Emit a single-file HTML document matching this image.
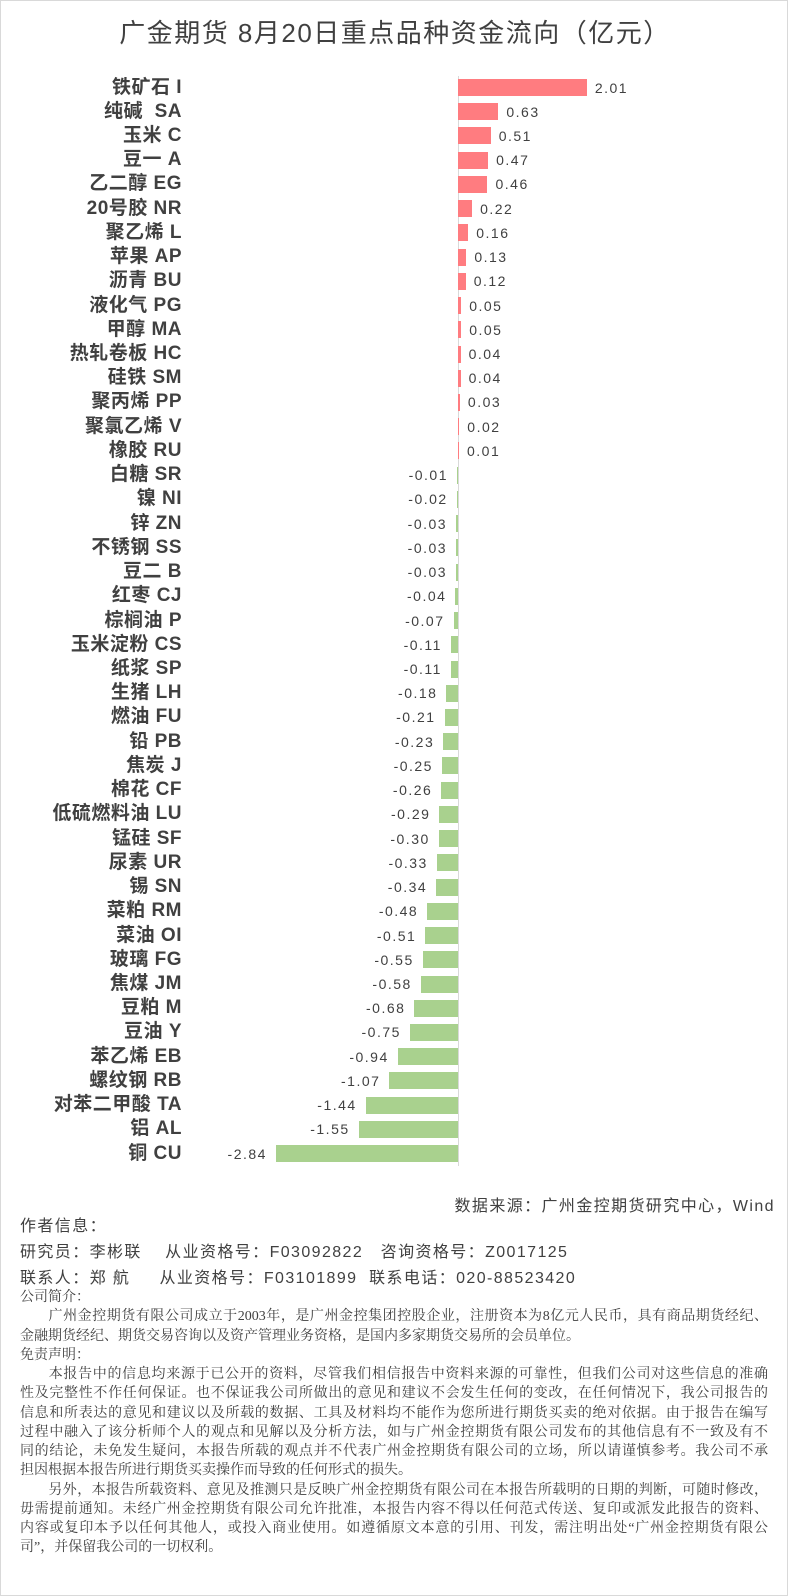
<!DOCTYPE html>
<html><head><meta charset="utf-8">
<style>
html,body{margin:0;padding:0;background:#fff}
#c{position:relative;width:786px;height:1594px;border:1px solid #d9d9d9;overflow:hidden;font-family:"Liberation Sans","Noto Sans CJK SC",sans-serif;color:#404040}
.t{position:absolute;white-space:nowrap}
.lab{font-size:19px;font-weight:bold;right:605px;line-height:22px;color:#404040;letter-spacing:0.5px}
.v{font-size:14px;line-height:18px;color:#404040;letter-spacing:1.5px}
.b{position:absolute;height:17px}
.p{position:absolute;left:19px;width:748px;font-size:14px;line-height:19.25px;color:#404040;font-family:"Liberation Serif","Noto Serif CJK SC",serif}
.p div{white-space:nowrap;text-align:justify;text-align-last:justify}
.p div.n{text-align-last:left}
.a{font-size:16px;letter-spacing:1.4px}
</style></head><body><div id="c">
<div class="t" style="left:0;width:788px;text-align:center;top:12px;font-size:26px;letter-spacing:1.5px;color:#404040">广金期货 8月20日重点品种资金流向（亿元）</div>
<div style="position:absolute;left:457px;top:75px;width:1px;height:1090px;background:#d9d9d9"></div>
<div id="rows"></div>
<div class="t a" style="right:12px;top:1191px">数据来源：广州金控期货研究中心，Wind</div>
<div class="t a" style="left:19px;top:1211px">作者信息：</div>
<div class="t a" style="left:19px;top:1237px">研究员：李彬联&nbsp;&nbsp;&nbsp;&nbsp;从业资格号：F03092822&nbsp;&nbsp;&nbsp;咨询资格号：Z0017125</div>
<div class="t a" style="left:19px;top:1263px">联系人：郑 航&nbsp;&nbsp;&nbsp;&nbsp;&nbsp;从业资格号：F03101899&nbsp;&nbsp;联系电话：020-88523420</div>
<div class="p" style="top:1287px">
<div class="n">公司简介：</div>
<div>&emsp;&emsp;广州金控期货有限公司成立于2003年，是广州金控集团控股企业，注册资本为8亿元人民币，具有商品期货经纪、</div>
<div class="n">金融期货经纪、期货交易咨询以及资产管理业务资格，是国内多家期货交易所的会员单位。</div>
<div class="n">免责声明：</div>
<div>&emsp;&emsp;本报告中的信息均来源于已公开的资料，尽管我们相信报告中资料来源的可靠性，但我们公司对这些信息的准确</div>
<div>性及完整性不作任何保证。也不保证我公司所做出的意见和建议不会发生任何的变改，在任何情况下，我公司报告的</div>
<div>信息和所表达的意见和建议以及所载的数据、工具及材料均不能作为您所进行期货买卖的绝对依据。由于报告在编写</div>
<div>过程中融入了该分析师个人的观点和见解以及分析方法，如与广州金控期货有限公司发布的其他信息有不一致及有不</div>
<div>同的结论，未免发生疑问，本报告所载的观点并不代表广州金控期货有限公司的立场，所以请谨慎参考。我公司不承</div>
<div class="n">担因根据本报告所进行期货买卖操作而导致的任何形式的损失。</div>
<div>&emsp;&emsp;另外，本报告所载资料、意见及推测只是反映广州金控期货有限公司在本报告所载明的日期的判断，可随时修改，</div>
<div>毋需提前通知。未经广州金控期货有限公司允许批准，本报告内容不得以任何范式传送、复印或派发此报告的资料、</div>
<div>内容或复印本予以任何其他人，或投入商业使用。如遵循原文本意的引用、刊发，需注明出处“广州金控期货有限公</div>
<div class="n">司”，并保留我公司的一切权利。</div>
</div>
</div>
<script>
var d=[["铁矿石 I",2.01],["纯碱  SA",0.63],["玉米 C",0.51],["豆一 A",0.47],["乙二醇 EG",0.46],["20号胶 NR",0.22],["聚乙烯 L",0.16],["苹果 AP",0.13],["沥青 BU",0.12],["液化气 PG",0.05],["甲醇 MA",0.05],["热轧卷板 HC",0.04],["硅铁 SM",0.04],["聚丙烯 PP",0.03],["聚氯乙烯 V",0.02],["橡胶 RU",0.01],["白糖 SR",-0.01],["镍 NI",-0.02],["锌 ZN",-0.03],["不锈钢 SS",-0.03],["豆二 B",-0.03],["红枣 CJ",-0.04],["棕榈油 P",-0.07],["玉米淀粉 CS",-0.11],["纸浆 SP",-0.11],["生猪 LH",-0.18],["燃油 FU",-0.21],["铅 PB",-0.23],["焦炭 J",-0.25],["棉花 CF",-0.26],["低硫燃料油 LU",-0.29],["锰硅 SF",-0.30],["尿素 UR",-0.33],["锡 SN",-0.34],["菜粕 RM",-0.48],["菜油 OI",-0.51],["玻璃 FG",-0.55],["焦煤 JM",-0.58],["豆粕 M",-0.68],["豆油 Y",-0.75],["苯乙烯 EB",-0.94],["螺纹钢 RB",-1.07],["对苯二甲酸 TA",-1.44],["铝 AL",-1.55],["铜 CU",-2.84]];
var h="",z=457,k=64.1;
d.forEach(function(r,i){var cy=86.5+i*24.23,v=r[1],w=Math.max(Math.abs(v)*k,1);
h+='<div class="t lab" style="top:'+(cy-11)+'px">'+r[0].replace(/ /g,"&nbsp;")+'</div>';
if(v>0){h+='<div class="b" style="left:'+z+'px;top:'+(cy-8.5)+'px;width:'+w+'px;background:#ff7c80"></div>';
h+='<div class="t v" style="left:'+(z+w+8)+'px;top:'+(cy-9)+'px">'+v.toFixed(2)+'</div>';}
else{h+='<div class="b" style="left:'+(z-w)+'px;top:'+(cy-8.5)+'px;width:'+w+'px;background:#a9d18e"></div>';
h+='<div class="t v" style="right:'+(788-(z-w-7))+'px;top:'+(cy-9)+'px">-'+Math.abs(v).toFixed(2)+'</div>';}});
document.getElementById("rows").innerHTML=h;
</script>
</body></html>
